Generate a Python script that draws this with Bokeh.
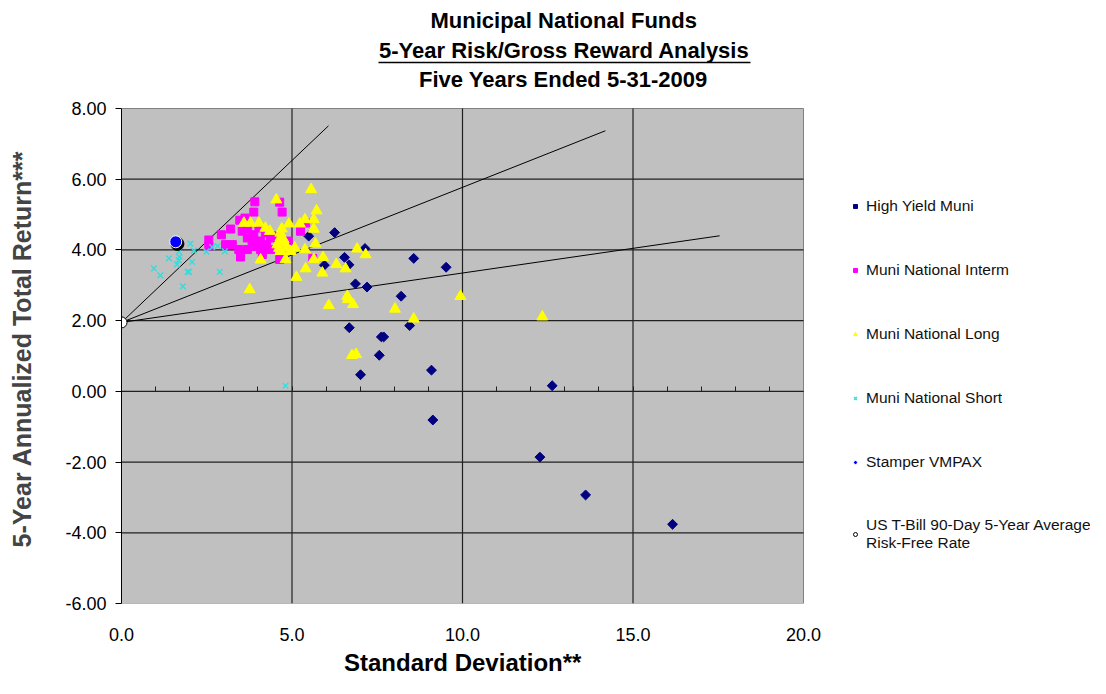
import math
from bokeh.plotting import figure
from bokeh.models import (Range1d, LinearAxis, FixedTicker, PrintfTickFormatter, Title,
                          Legend, LegendItem)
from bokeh.embed import file_html
from bokeh.resources import INLINE

# ---------------- data ----------------
hy_x = [6.25, 5.49, 7.14, 6.54, 6.67, 5.95, 8.57, 9.52, 6.86, 7.20, 8.20, 6.68, 7.62, 7.69,
        8.45, 7.56, 7.01, 9.09, 12.63, 9.13, 12.27, 13.61, 16.16]
hy_y = [4.49, 4.39, 4.04, 3.79, 3.58, 3.57, 3.76, 3.51, 3.04, 2.95, 2.69, 1.80, 1.54, 1.54,
        1.86, 1.02, 0.47, 0.60, 0.16, -0.81, -1.86, -2.93, -3.76]

int_x = [3.91, 4.71, 4.64, 3.88, 3.62, 3.47, 3.20, 2.93, 2.56, 2.56, 3.05, 3.25, 3.49, 3.49,
         3.54, 3.70, 4.03, 3.88, 3.69, 3.83, 4.08, 4.37, 4.22, 3.69, 4.08, 4.37, 4.13, 4.64,
         5.25, 5.40, 5.61, 4.89, 3.44, 3.95, 4.25, 4.50]
int_y = [5.36, 5.07, 5.35, 5.07, 4.90, 4.84, 4.59, 4.43, 4.28, 4.11, 4.15, 4.15, 3.96, 3.80,
         4.53, 4.59, 4.62, 4.43, 4.34, 4.20, 4.25, 4.34, 4.48, 4.01, 4.01, 4.01, 3.87, 3.73,
         4.53, 4.76, 3.76, 4.25, 4.01, 4.10, 4.15, 4.40]

long_x = [5.56, 5.72, 4.54, 5.38, 5.64, 4.91, 5.23, 5.64, 3.59, 3.78, 4.03, 4.22, 4.35, 4.66,
          4.66, 4.76, 4.86, 4.57, 4.66, 4.70, 4.75, 4.62, 5.08, 5.38, 5.69, 6.91, 7.16, 5.91,
          5.64, 4.81, 4.08, 6.30, 6.57, 5.40, 5.89, 5.13, 3.76, 6.62, 9.94, 6.08, 6.64, 6.79,
          8.02, 8.57, 12.34, 6.76, 6.88, 4.96]
long_y = [5.71, 5.11, 5.42, 4.86, 4.86, 4.74, 4.74, 4.59, 4.76, 4.76, 4.76, 4.62, 4.53, 4.48,
          4.34, 4.20, 4.06, 4.15, 3.96, 4.60, 4.30, 4.05, 4.06, 4.01, 4.17, 4.03, 3.87, 3.79,
          3.73, 3.73, 3.72, 3.59, 3.47, 3.47, 3.35, 3.23, 2.88, 2.69, 2.69, 2.43, 2.60, 2.46,
          2.33, 2.05, 2.11, 1.02, 1.05, 3.96]

short_x = [2.02, 1.68, 2.12, 2.49, 2.66, 2.82, 3.03, 1.39, 1.68, 1.63, 2.07, 2.88, 0.95, 1.14,
           1.94, 1.98, 1.80, 4.81, 1.70]
short_y = [4.18, 3.95, 3.98, 3.95, 4.08, 4.11, 3.96, 3.76, 3.71, 3.59, 3.66, 3.38, 3.48, 3.28,
           3.38, 3.38, 2.97, 0.16, 3.80]

vmpax_x = [1.59]
vmpax_y = [4.23]

tbill_x = [0.0]
tbill_y = [1.95]

# capital-market lines from the risk-free point
cml_end_x = [6.07, 14.19, 17.54]
cml_end_y = [7.51, 7.37, 4.40]

x_ticks = [0, 5, 10, 15, 20]
x_minor = list(range(1, 20))
y_ticks = [-6, -4, -2, 0, 2, 4, 6, 8]

series_names = ["High Yield Muni", "Muni National Interm", "Muni National Long",
                "Muni National Short", "Stamper VMPAX",
                "US T-Bill 90-Day 5-Year Average\nRisk-Free Rate"]
title_lines = ["Municipal National Funds", "5-Year Risk/Gross Reward Analysis",
               "Five Years Ended 5-31-2009"]
x_label = "Standard Deviation**"
y_label = "5-Year Annualized Total Return***"

# ---------------- geometry ----------------
W, H = 1090, 678
LEFT, TOP, RIGHT, BOTTOM = 121, 94, 0, 75
GREY_TOP = 108                     # pixel row of the top of the grey plot area
PLOT_W = 682                       # pixel width of the grey plot area (0 .. 20)
FRAME_W = W - LEFT - RIGHT
GREY_H = H - BOTTOM - GREY_TOP
X0, X1 = x_ticks[0], x_ticks[-1]
Y0, Y1 = y_ticks[0], y_ticks[-1]
x_end = X0 + (X1 - X0) * FRAME_W / PLOT_W
y_end = Y1 + (Y1 - Y0) * (GREY_TOP - TOP) / GREY_H

FONT = "Liberation Sans"
TFONT = "Liberation Sans"

p = figure(width=W, height=H, output_backend="svg", toolbar_location=None,
           x_range=Range1d(X0, x_end), y_range=Range1d(Y0, y_end),
           min_border_left=LEFT, min_border_right=RIGHT, min_border_top=TOP,
           min_border_bottom=BOTTOM, x_axis_location=None, y_axis_location=None)
p.border_fill_color = "white"
p.background_fill_color = "white"
p.outline_line_color = None
p.xgrid.visible = False
p.ygrid.visible = False

# grey plot area
p.quad(left=X0, right=X1, bottom=Y0, top=Y1, fill_color="#C0C0C0", line_color="#808080",
       line_width=1)
# gridlines
gx = x_ticks[1:-1]
p.segment(x0=gx, y0=[Y0] * len(gx), x1=gx, y1=[Y1] * len(gx), line_color="#202020", line_width=1.2)
gy = y_ticks[1:-1]
p.segment(x0=[X0] * len(gy), y0=gy, x1=[X1] * len(gy), y1=gy, line_color="#202020", line_width=1.2)

# ---- titles (stacked above the frame, nearest first) ----
TITLE_CENTER = 563
TITLE_W = [266, 369, 289]


def mk_title(i, standoff):
    return Title(text=title_lines[i], align="left", offset=TITLE_CENTER - TITLE_W[i] / 2 - LEFT,
                 text_font=TFONT, text_font_style="bold", text_font_size="22px",
                 text_color="black", standoff=standoff)


p.add_layout(mk_title(2, 5), "above")
underline = LinearAxis(ticker=FixedTicker(ticks=[]), bounds=(7.54, 18.45),
                       axis_line_color="black", axis_line_width=1.5,
                       major_tick_in=0, major_tick_out=0, minor_tick_in=0, minor_tick_out=0,
                       major_label_standoff=0)
p.add_layout(underline, "above")
p.add_layout(mk_title(1, 0), "above")
p.add_layout(mk_title(0, 5), "above")

# ---- axes ----
yaxis = LinearAxis(ticker=FixedTicker(ticks=y_ticks), formatter=PrintfTickFormatter(format="%.2f"),
                   bounds=(Y0, Y1))
yaxis.axis_label = y_label
yaxis.axis_label_text_font = TFONT
yaxis.axis_label_text_font_style = "bold"
yaxis.axis_label_text_font_size = "25px"
yaxis.axis_label_standoff = 26
yaxis.major_label_text_font = FONT
yaxis.major_label_text_font_size = "18px"
yaxis.major_label_text_color = "black"
yaxis.major_label_standoff = 9
yaxis.major_tick_out = 6
yaxis.major_tick_in = 0
yaxis.minor_tick_out = 0
yaxis.minor_tick_in = 0
yaxis.axis_line_color = "black"
yaxis.major_tick_line_color = "black"
p.add_layout(yaxis, "left")

xaxis = LinearAxis(ticker=FixedTicker(ticks=x_ticks), formatter=PrintfTickFormatter(format="%.1f"),
                   bounds=(X0, X1))
xaxis.major_label_text_font = FONT
xaxis.major_label_text_font_size = "18px"
xaxis.major_label_text_color = "black"
xaxis.major_label_standoff = 24
xaxis.major_tick_out = 0
xaxis.major_tick_in = 0
xaxis.minor_tick_out = 0
xaxis.minor_tick_in = 0
xaxis.axis_line_color = None
p.add_layout(xaxis, "below")

# axis crossing at y = 0 with inward minor ticks every 1.0
zaxis = LinearAxis(ticker=FixedTicker(ticks=[], minor_ticks=x_minor), fixed_location=0,
                   bounds=(X0, X1))
zaxis.major_tick_in = 0
zaxis.major_tick_out = 0
zaxis.minor_tick_in = 5
zaxis.minor_tick_out = 0
zaxis.axis_line_color = "#202020"
zaxis.axis_line_width = 1.2
zaxis.minor_tick_line_color = "#202020"
zaxis.major_label_standoff = 0
p.add_layout(zaxis, "below")

# x-axis title, centred under the grey plot area
XL_W = 237
p.add_layout(Title(text=x_label, align="left", offset=(LEFT + PLOT_W / 2) - XL_W / 2 - LEFT,
                   text_font=TFONT, text_font_style="bold", text_font_size="24px",
                   text_color="black", standoff=6), "below")

# capital market lines
p.segment(x0=[tbill_x[0]] * len(cml_end_x), y0=[tbill_y[0]] * len(cml_end_y),
          x1=cml_end_x, y1=cml_end_y, line_color="black", line_width=1)

r_hy = p.scatter(hy_x, hy_y, marker="square", angle=math.pi / 4, size=7,
                 fill_color="#000080", line_color="#000080")
r_int = p.scatter(int_x, int_y, marker="square", size=8, fill_color="#FF00FF", line_color="#FF00FF")
r_long = p.scatter(long_x, long_y, marker="triangle", size=11, fill_color="#FFFF00",
                   line_color="#FFFF00")
r_short = p.scatter(short_x, short_y, marker="x", size=8, line_color="#33DDDD", line_width=1.4)
p.scatter([vx + 0.05 for vx in vmpax_x], [vy - 0.06 for vy in vmpax_y], marker="circle",
          size=13, fill_color="black", line_color="black")
r_vm = p.scatter(vmpax_x, vmpax_y, marker="circle", size=12, fill_color="#0000FF",
                 line_color="white", line_width=1)
r_tb = p.scatter(tbill_x, tbill_y, marker="circle", size=11, fill_color="white",
                 line_color="black", line_width=1)

legend = Legend(items=[
    LegendItem(label=series_names[0], renderers=[r_hy]),
    LegendItem(label=series_names[1], renderers=[r_int]),
    LegendItem(label=series_names[2], renderers=[r_long]),
    LegendItem(label=series_names[3], renderers=[r_short]),
    LegendItem(label=series_names[4], renderers=[r_vm]),
    LegendItem(label=series_names[5], renderers=[r_tb]),
], location=(729, 51))
legend.background_fill_alpha = 0
legend.border_line_color = None
legend.label_text_font = FONT
legend.label_text_font_size = "15.5px"
legend.label_text_color = "#111111"
legend.label_height = 20
legend.glyph_height = 10
legend.glyph_width = 10
legend.label_standoff = 6
legend.spacing = 44
legend.padding = 0
legend.margin = 0
p.add_layout(legend)

open("out.html", "w").write(file_html(p, INLINE))
